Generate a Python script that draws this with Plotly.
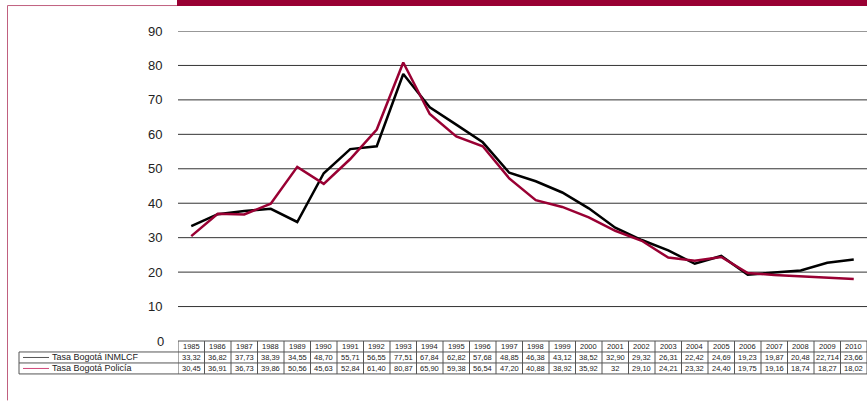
import plotly.graph_objects as go

years = ["1985","1986","1987","1988","1989","1990","1991","1992","1993","1994","1995","1996","1997",
         "1998","1999","2000","2001","2002","2003","2004","2005","2006","2007","2008","2009","2010"]
inmlcf_txt = ["33,32","36,82","37,73","38,39","34,55","48,70","55,71","56,55","77,51","67,84","62,82","57,68","48,85",
              "46,38","43,12","38,52","32,90","29,32","26,31","22,42","24,69","19,23","19,87","20,48","22,714","23,66"]
policia_txt = ["30,45","36,91","36,73","39,86","50,56","45,63","52,84","61,40","80,87","65,90","59,38","56,54","47,20",
               "40,88","38,92","35,92","32","29,10","24,21","23,32","24,40","19,75","19,16","18,74","18,27","18,02"]
series_names = ["Tasa Bogotá INMLCF", "Tasa Bogotá Policía"]
yticks = [10, 20, 30, 40, 50, 60, 70, 80, 90]

inmlcf = [float(s.replace(",", ".")) for s in inmlcf_txt]
policia = [float(s.replace(",", ".")) for s in policia_txt]

W, H = 867, 401
L, R, T, B = 178, 867, 31, 341.5
MAROON = "#990033"
FONT = "Liberation Sans"

def px(x):
    return (x - L) / (R - L)

def py(y):
    return (B - y) / (B - T)

idx = list(range(len(years)))
fig = go.Figure()
fig.add_trace(go.Scatter(x=idx, y=inmlcf, mode="lines", line=dict(color="#000000", width=2.5),
                         name=series_names[0], hoverinfo="skip"))
fig.add_trace(go.Scatter(x=idx, y=policia, mode="lines", line=dict(color=MAROON, width=2.5),
                         name=series_names[1], hoverinfo="skip"))

shapes = []
annotations = []

for v in yticks:
    shapes.append(dict(type="line", xref="paper", yref="y", x0=0, x1=1, y0=v, y1=v,
                       line=dict(color="#333333", width=1), layer="below"))

y_head_top, y_row1, y_row2, y_bot = 341.5, 352.5, 363.5, 374.5
tbl_line = dict(color="#555555", width=1)
n = len(years)
shapes.append(dict(type="line", xref="x", yref="paper", x0=-0.5, x1=n - 0.5, y0=py(y_head_top), y1=py(y_head_top), line=tbl_line))
for yy in (y_row1, y_row2, y_bot):
    shapes.append(dict(type="line", xref="paper", yref="paper", x0=px(19), x1=1, y0=py(yy), y1=py(yy), line=tbl_line))
for i in range(n + 1):
    shapes.append(dict(type="line", xref="x", yref="paper", x0=i - 0.5, x1=i - 0.5,
                       y0=py(y_head_top), y1=py(y_bot), line=tbl_line))
shapes.append(dict(type="line", xref="paper", yref="paper", x0=px(19), x1=px(19),
                   y0=py(y_row1), y1=py(y_bot), line=tbl_line))

for i in idx:
    for txt, (ya, yb) in ((years[i], (y_head_top, y_row1)), (inmlcf_txt[i], (y_row1, y_row2)), (policia_txt[i], (y_row2, y_bot))):
        annotations.append(dict(x=i, xref="x", y=py((ya + yb) / 2), yref="paper", text=txt, showarrow=False,
                                font=dict(family=FONT, size=7.5, color="#222222"), xanchor="center", yanchor="middle"))

for k, (name, col) in enumerate(zip(series_names, ["#555555", "#d0487a"])):
    ya, yb = (y_row1, y_row2) if k == 0 else (y_row2, y_bot)
    ym = (ya + yb) / 2
    shapes.append(dict(type="line", xref="paper", yref="paper", x0=px(23), x1=px(49), y0=py(ym), y1=py(ym),
                       line=dict(color=col, width=1)))
    annotations.append(dict(x=px(50), xref="paper", y=py(ym), yref="paper", text=name, showarrow=False,
                            font=dict(family=FONT, size=9, color="#222222"), xanchor="left", yanchor="middle"))

annotations.append(dict(x=px(166), xref="paper", y=0, yref="y", text="0", showarrow=False,
                        font=dict(family=FONT, size=13, color="#222222"), xanchor="right", yanchor="middle"))

shapes.append(dict(type="rect", xref="paper", yref="paper", x0=px(177), x1=1, y0=py(6), y1=py(0),
                   fillcolor=MAROON, line=dict(width=0)))
shapes.append(dict(type="line", xref="paper", yref="paper", x0=px(7.5), x1=px(177), y0=py(5.5), y1=py(5.5),
                   line=dict(color="#c0607f", width=1)))
shapes.append(dict(type="line", xref="paper", yref="paper", x0=px(7.5), x1=px(7.5), y0=py(5.5), y1=py(401),
                   line=dict(color="#c0607f", width=1)))

fig.update_layout(
    width=W, height=H,
    margin=dict(l=L, r=W - R, t=T, b=H - B, pad=0),
    paper_bgcolor="white", plot_bgcolor="white",
    showlegend=False,
    shapes=shapes, annotations=annotations,
    xaxis=dict(range=[-0.5, n - 0.5], showgrid=False, showticklabels=False, zeroline=False,
               showline=False, ticks="", fixedrange=True),
    yaxis=dict(range=[0, 90], tickvals=yticks, showgrid=False, zeroline=False, showline=False,
               ticks="outside", ticklen=12, tickcolor="rgba(0,0,0,0)",
               tickfont=dict(family=FONT, size=13, color="#222222"), fixedrange=True),
)

fig.write_html("out.html", config={"displayModeBar": False},
               post_script="document.body.style.margin='0px';document.body.style.overflow='hidden';")
